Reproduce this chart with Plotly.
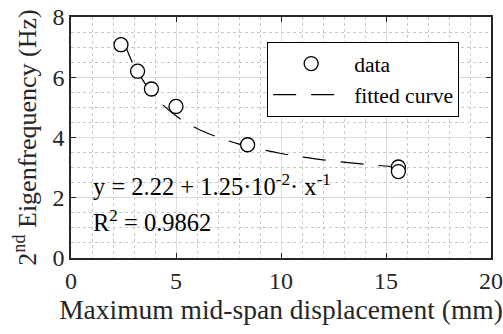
import plotly.graph_objects as go

# measured data
disp_mm = [2.38, 3.17, 3.83, 5.0, 8.41, 15.59, 15.59]
freq_hz = [7.08, 6.20, 5.61, 5.03, 3.76, 3.02, 2.87]

# fitted curve
fit_x = [2.5, 3.0, 4.0, 5.0, 6.0, 7.0, 8.0, 10.0, 12.0, 14.0, 15.6]
fit_y = [7.22, 6.39, 5.35, 4.72, 4.30, 4.01, 3.78, 3.47, 3.26, 3.11, 3.02]

x_ticks = [0, 5, 10, 15, 20]
y_ticks = [0, 2, 4, 6, 8]

FONT = "Liberation Serif, Times New Roman, serif"
TXT = "#262626"

fig = go.Figure()
fig.add_trace(go.Scatter(
    x=fit_x, y=fit_y, mode="lines", name="fitted curve",
    line=dict(color="black", width=1.2, dash="23px,15px", shape="spline"),
    legendrank=2,
))
fig.add_trace(go.Scatter(
    x=disp_mm, y=freq_hz, mode="markers", name="data",
    marker=dict(symbol="circle", size=14, color="white", line=dict(width=1.3, color="black")),
    legendrank=1,
))

axis_common = dict(
    showline=True, linecolor=TXT, linewidth=1.5, mirror="ticks",
    ticks="inside", ticklen=5, tickcolor=TXT,
    showgrid=True, gridcolor="#dcdcdc", gridwidth=1,
    zeroline=False, automargin=False,
    tickfont=dict(family=FONT, size=24, color=TXT),
)

fig.update_xaxes(
    range=[0, 20], tickvals=x_ticks,
    title=dict(text="Maximum mid-span displacement (mm)", font=dict(family=FONT, size=27.5, color=TXT), standoff=2),
    minor=dict(dtick=1, showgrid=True, gridcolor="#c8c8c8", griddash="dot", gridwidth=1, ticks=""),
    **axis_common,
)
fig.update_yaxes(
    range=[0, 8], tickvals=y_ticks,
    title=dict(text="2<sup>nd</sup> Eigenfrequency (Hz)", font=dict(family=FONT, size=26, color=TXT), standoff=8),
    minor=dict(dtick=0.5, showgrid=True, gridcolor="#c8c8c8", griddash="dot", gridwidth=1, ticks=""),
    **axis_common,
)

fig.add_annotation(
    x=0.95, y=2.42, xref="x", yref="y", xanchor="left", yanchor="middle",
    text="y = 2.22 + 1.25·10<sup>-2</sup>· x<sup>-1</sup>", showarrow=False,
    font=dict(family=FONT, size=24.5, color="black"),
)
fig.add_annotation(
    x=0.95, y=1.22, xref="x", yref="y", xanchor="left", yanchor="middle",
    text="R<sup>2</sup> = 0.9862", showarrow=False,
    font=dict(family=FONT, size=24.5, color="black"),
)

fig.update_layout(
    width=503, height=334,
    margin=dict(l=71, r=12, t=17, b=76),
    plot_bgcolor="white", paper_bgcolor="white",
    showlegend=True,
    legend=dict(
        x=0.467, y=0.896, xanchor="left", yanchor="top",
        bordercolor="black", borderwidth=1, bgcolor="white",
        font=dict(family=FONT, size=21.6, color="black"),
        tracegroupgap=0, itemwidth=76, traceorder="normal",
    ),
)

fig.write_html("out.html", config={"displayModeBar": False},
               post_script="document.body.style.margin='0';")
